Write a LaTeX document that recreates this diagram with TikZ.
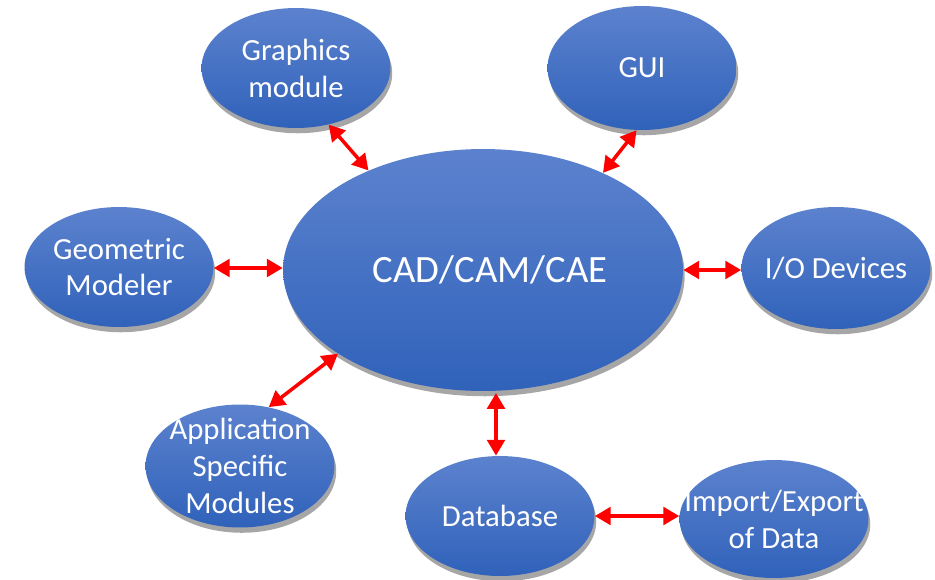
\documentclass[tikz,border=0pt]{standalone}
\usepackage{fontspec}
\setmainfont{Carlito}
\usetikzlibrary{shapes.geometric,shadows,arrows.meta}

\definecolor{bubtop}{RGB}{92,130,206}
\definecolor{bubbot}{RGB}{48,98,186}

\tikzset{
  bubble/.style={ellipse, inner sep=0pt, top color=bubtop, bottom color=bubbot,
    draw=none, drop shadow={shadow xshift=1pt, shadow yshift=-3pt, opacity=0.35, fill=black},
    minimum width=3.78cm, minimum height=2.4cm},
  lbl/.style={white, align=center, font=\fontsize{17.5}{21}\selectfont},
  link/.style={red, line width=2pt, {Triangle[length=9pt,width=10pt]}-{Triangle[length=9pt,width=10pt]}}
}

\begin{document}
\begin{tikzpicture}[x=0.02cm,y=-0.02cm]
  \useasboundingbox (0,0) rectangle (935,579);
  % the hub
  \node[bubble, minimum width=8cm, minimum height=4.84cm,
        label={[lbl, xshift=4pt, font=\fontsize{22}{26}\selectfont]center:CAD/CAM/CAE}] (cad) at (483,270) {};
  % the modules round it
  \node[bubble, label={[lbl]center:Graphics\\module}] (graph) at (296,68) {};
  \node[bubble, minimum height=2.48cm, label={[lbl]center:GUI}] (gui) at (642,68) {};
  \node[bubble, label={[lbl]center:Geometric\\Modeler}] (geo) at (119,267) {};
  \node[bubble, minimum height=2.44cm, label={[lbl]center:I/O Devices}] (io) at (836,268) {};
  \node[bubble, minimum height=2.46cm, label={[lbl]center:Application\\Specific\\Modules}] (app) at (240,466) {};
  \node[bubble, label={[lbl]center:Database}] (db) at (500,516) {};
  \node[bubble, minimum height=2.36cm, label={[lbl]center:Import/Export\\of Data}] (imp) at (774,519) {};

  \draw[link] (graph.-60) -- (cad.139);
  \draw[link] (gui.-95) -- (cad.39);
  \draw[link] (geo.east |- 0,268) -- (cad.west |- 0,268);
  \draw[link] (cad.east |- 0,270) -- (io.west |- 0,270);
  \draw[link] (app.64) -- (cad.210);
  \draw[link] (db.north -| 496,0) -- (496,393);
  \draw[link] (db.east) -- (db.east -| imp.west);
\end{tikzpicture}
\end{document}
